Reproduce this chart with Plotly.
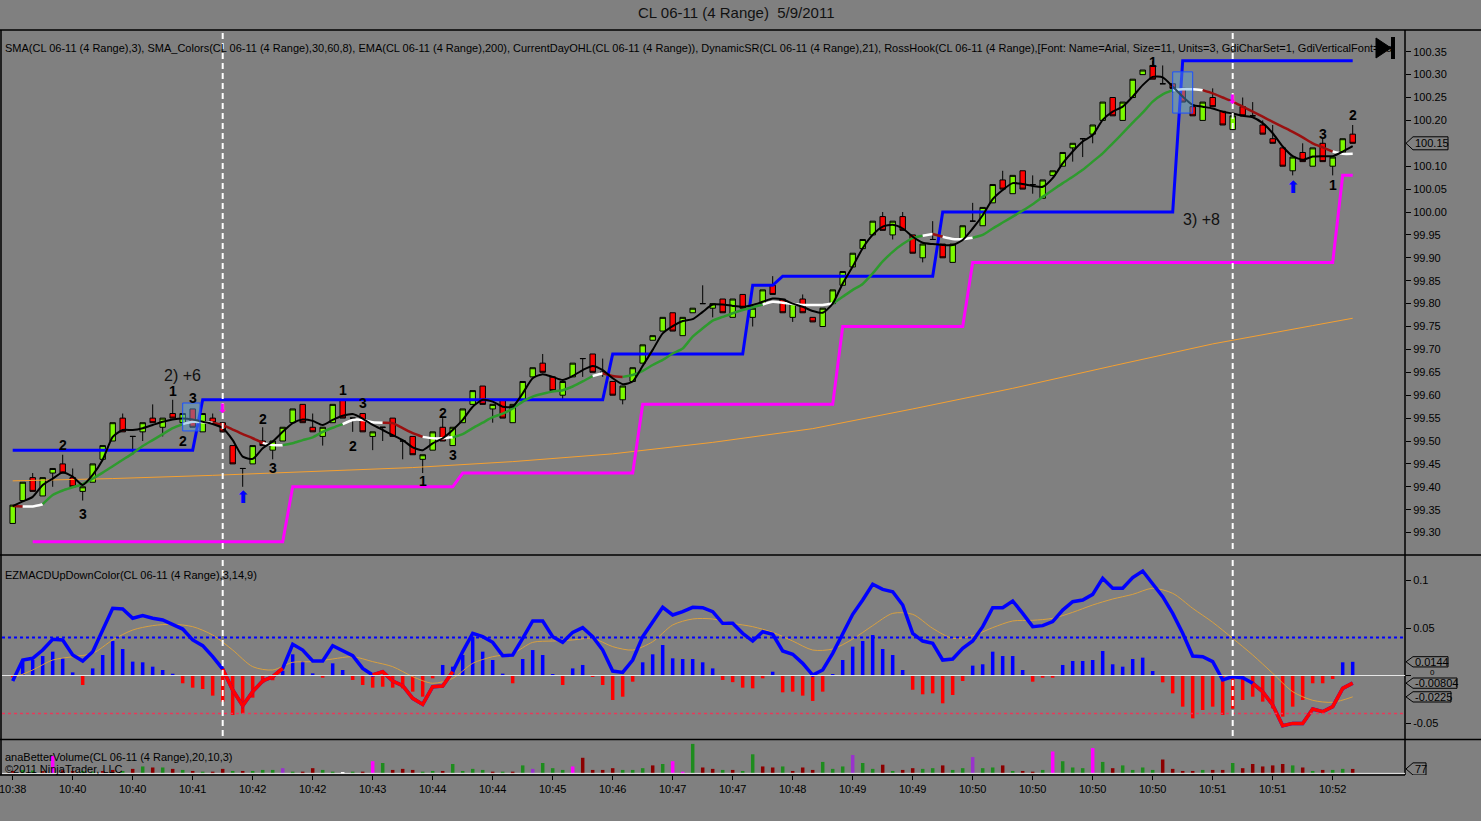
# Recreates a NinjaTrader style chart of CL 06-11 (4 Range) on 5/9/2011:
# price candles with overlays, MACD panel and volume panel.

################
# IMPORT MODULES
################
import plotly.graph_objects as go

#############
# DATA
#############
# One entry per range bar (135 bars, index 0..134).
opens = [99.32, 99.37, 99.42, 99.38, 99.43, 99.45, 99.42, 99.39, 99.41, 99.46,
         99.50, 99.55, 99.51, 99.52, 99.55, 99.53, 99.56, 99.54, 99.57, 99.52,
         99.55, 99.54, 99.49, 99.44, 99.45, 99.50, 99.48, 99.50, 99.54, 99.58,
         99.53, 99.51, 99.54, 99.59, 99.55, 99.56, 99.51, 99.53, 99.55, 99.50,
         99.51, 99.46, 99.48, 99.53, 99.49, 99.54, 99.58, 99.62, 99.57, 99.59,
         99.54, 99.59, 99.64, 99.67, 99.64, 99.60, 99.64, 99.68, 99.69, 99.65,
         99.63, 99.59, 99.63, 99.67, 99.72, 99.74, 99.78, 99.73, 99.78, 99.80,
         99.79, 99.81, 99.77, 99.82, 99.77, 99.80, 99.84, 99.81, 99.77, 99.81,
         99.77, 99.75, 99.80, 99.84, 99.88, 99.92, 99.95, 99.99, 99.95, 99.99,
         99.95, 99.90, 99.94, 99.93, 99.89, 99.94, 99.98, 99.97, 100.02, 100.07,
         100.04, 100.09, 100.06, 100.03, 100.08, 100.10, 100.14, 100.16, 100.17, 100.20,
         100.25, 100.20, 100.25, 100.30, 100.32, 100.28, 100.28, 100.27, 100.23, 100.20,
         100.25, 100.22, 100.18, 100.23, 100.21, 100.19, 100.16, 100.14, 100.09, 100.13,
         100.10, 100.15, 100.10, 100.13, 100.17]
highs = [99.36, 99.41, 99.43, 99.42, 99.44, 99.47, 99.44, 99.40, 99.45, 99.49,
         99.54, 99.56, 99.51, 99.54, 99.58, 99.55, 99.59, 99.56, 99.57, 99.56,
         99.56, 99.54, 99.49, 99.44, 99.49, 99.53, 99.50, 99.53, 99.57, 99.58,
         99.56, 99.53, 99.58, 99.59, 99.55, 99.56, 99.52, 99.53, 99.55, 99.50,
         99.51, 99.47, 99.52, 99.55, 99.53, 99.57, 99.61, 99.62, 99.58, 99.59,
         99.58, 99.63, 99.66, 99.69, 99.64, 99.63, 99.67, 99.68, 99.69, 99.68,
         99.63, 99.62, 99.66, 99.71, 99.73, 99.77, 99.78, 99.77, 99.79, 99.84,
         99.80, 99.81, 99.81, 99.82, 99.79, 99.83, 99.86, 99.81, 99.80, 99.82,
         99.77, 99.79, 99.83, 99.87, 99.91, 99.94, 99.98, 100.00, 99.98, 100.00,
         99.95, 99.93, 99.98, 99.93, 99.93, 99.97, 100.02, 100.01, 100.06, 100.09,
         100.08, 100.09, 100.08, 100.07, 100.09, 100.13, 100.15, 100.16, 100.19, 100.24,
         100.25, 100.24, 100.29, 100.31, 100.33, 100.32, 100.28, 100.27, 100.23, 100.24,
         100.27, 100.22, 100.21, 100.25, 100.24, 100.20, 100.19, 100.14, 100.12, 100.15,
         100.14, 100.16, 100.12, 100.16, 100.19]
lows = [99.32, 99.37, 99.39, 99.38, 99.40, 99.43, 99.40, 99.37, 99.41, 99.46,
        99.50, 99.52, 99.47, 99.50, 99.54, 99.51, 99.55, 99.54, 99.53, 99.52,
        99.54, 99.52, 99.45, 99.40, 99.45, 99.49, 99.46, 99.50, 99.54, 99.54,
        99.52, 99.49, 99.54, 99.55, 99.52, 99.52, 99.48, 99.50, 99.51, 99.46,
        99.47, 99.43, 99.48, 99.50, 99.49, 99.54, 99.58, 99.58, 99.54, 99.55,
        99.54, 99.59, 99.64, 99.65, 99.61, 99.59, 99.64, 99.64, 99.65, 99.64,
        99.60, 99.58, 99.63, 99.67, 99.72, 99.74, 99.74, 99.73, 99.78, 99.80,
        99.77, 99.78, 99.77, 99.79, 99.75, 99.80, 99.82, 99.78, 99.76, 99.78,
        99.76, 99.75, 99.80, 99.84, 99.88, 99.92, 99.95, 99.96, 99.94, 99.96,
        99.91, 99.89, 99.94, 99.90, 99.89, 99.94, 99.98, 99.97, 100.02, 100.05,
        100.04, 100.05, 100.04, 100.03, 100.08, 100.10, 100.11, 100.12, 100.15, 100.20,
        100.21, 100.20, 100.25, 100.30, 100.29, 100.28, 100.26, 100.24, 100.21, 100.20,
        100.23, 100.19, 100.18, 100.21, 100.21, 100.17, 100.15, 100.10, 100.08, 100.11,
        100.10, 100.11, 100.08, 100.13, 100.15]
closes = [99.36, 99.41, 99.39, 99.42, 99.44, 99.43, 99.40, 99.40, 99.45, 99.49,
          99.54, 99.52, 99.51, 99.54, 99.54, 99.55, 99.55, 99.56, 99.53, 99.56,
          99.54, 99.52, 99.45, 99.44, 99.49, 99.49, 99.50, 99.53, 99.57, 99.54,
          99.52, 99.53, 99.58, 99.55, 99.55, 99.52, 99.52, 99.53, 99.51, 99.50,
          99.47, 99.47, 99.52, 99.50, 99.53, 99.57, 99.61, 99.58, 99.58, 99.55,
          99.58, 99.63, 99.66, 99.65, 99.61, 99.63, 99.67, 99.68, 99.65, 99.65,
          99.60, 99.62, 99.66, 99.71, 99.73, 99.77, 99.74, 99.77, 99.79, 99.80,
          99.80, 99.78, 99.81, 99.79, 99.79, 99.83, 99.82, 99.78, 99.80, 99.78,
          99.76, 99.79, 99.83, 99.87, 99.91, 99.94, 99.98, 99.96, 99.98, 99.96,
          99.91, 99.93, 99.94, 99.90, 99.93, 99.97, 99.98, 100.01, 100.06, 100.05,
          100.08, 100.05, 100.06, 100.07, 100.09, 100.13, 100.15, 100.16, 100.19, 100.24,
          100.21, 100.24, 100.29, 100.31, 100.29, 100.28, 100.27, 100.24, 100.21, 100.24,
          100.23, 100.19, 100.21, 100.21, 100.21, 100.17, 100.15, 100.10, 100.12, 100.11,
          100.14, 100.11, 100.12, 100.16, 100.15]

# SMA(3) black line.
sma3 = [99.358, 99.368, 99.378, 99.404, 99.418, 99.431, 99.422, 99.404, 99.426, 99.459,
        99.509, 99.524, 99.524, 99.528, 99.535, 99.542, 99.547, 99.549, 99.547, 99.542,
        99.537, 99.528, 99.502, 99.466, 99.461, 99.484, 99.499, 99.520, 99.539, 99.547,
        99.544, 99.535, 99.546, 99.555, 99.559, 99.549, 99.535, 99.524, 99.513, 99.502,
        99.486, 99.480, 99.495, 99.506, 99.524, 99.546, 99.575, 99.590, 99.586, 99.575,
        99.575, 99.604, 99.637, 99.646, 99.640, 99.633, 99.642, 99.655, 99.664, 99.655,
        99.637, 99.624, 99.630, 99.664, 99.699, 99.735, 99.751, 99.762, 99.766, 99.782,
        99.798, 99.798, 99.795, 99.793, 99.797, 99.804, 99.811, 99.809, 99.800, 99.793,
        99.784, 99.780, 99.800, 99.844, 99.881, 99.921, 99.950, 99.968, 99.972, 99.964,
        99.946, 99.933, 99.930, 99.928, 99.928, 99.939, 99.964, 99.993, 100.028, 100.048,
        100.063, 100.061, 100.057, 100.055, 100.074, 100.106, 100.132, 100.154, 100.168, 100.201,
        100.219, 100.230, 100.252, 100.277, 100.295, 100.294, 100.274, 100.252, 100.234, 100.230,
        100.226, 100.219, 100.215, 100.210, 100.207, 100.194, 100.172, 100.143, 100.122, 100.114,
        100.121, 100.122, 100.122, 100.132, 100.144]

# SMA_Colors line and its trend state runs (g = up, r = down, w = flat).
sma_colors = [99.358, 99.357, 99.357, 99.362, 99.382, 99.392, 99.399, 99.406, 99.418, 99.431,
              99.445, 99.459, 99.473, 99.489, 99.502, 99.515, 99.528, 99.537, 99.542, 99.541,
              99.540, 99.535, 99.525, 99.515, 99.506, 99.496, 99.491, 99.491, 99.495, 99.502,
              99.508, 99.520, 99.529, 99.537, 99.546, 99.546, 99.541, 99.540, 99.539, 99.528,
              99.517, 99.509, 99.506, 99.506, 99.508, 99.515, 99.528, 99.540, 99.552, 99.560,
              99.571, 99.586, 99.597, 99.603, 99.608, 99.611, 99.619, 99.630, 99.642, 99.648,
              99.642, 99.640, 99.644, 99.653, 99.666, 99.677, 99.691, 99.702, 99.728, 99.746,
              99.763, 99.771, 99.779, 99.786, 99.792, 99.798, 99.804, 99.802, 99.799, 99.797,
              99.797, 99.797, 99.800, 99.815, 99.830, 99.843, 99.866, 99.892, 99.913, 99.930,
              99.943, 99.948, 99.952, 99.946, 99.941, 99.941, 99.944, 99.950, 99.964, 99.977,
              99.990, 100.003, 100.017, 100.033, 100.048, 100.063, 100.077, 100.092, 100.110, 100.128,
              100.150, 100.172, 100.195, 100.217, 100.241, 100.257, 100.266, 100.268, 100.268, 100.266,
              100.259, 100.250, 100.241, 100.230, 100.219, 100.208, 100.197, 100.186, 100.175, 100.163,
              100.150, 100.141, 100.132, 100.127, 100.127]
sma_colors_runs = [('r', 2), ('w', 2), ('g', 14), ('w', 3), ('r', 5), ('w', 2), ('g', 6),
                   ('w', 4), ('r', 4), ('w', 3), ('g', 14), ('w', 1), ('r', 2), ('g', 14),
                   ('w', 7), ('g', 9), ('w', 1), ('r', 1), ('w', 3), ('g', 20), ('w', 3),
                   ('r', 13), ('w', 2)]

# EMA(200), read every 10 bars.
ema_bars = [0, 10, 20, 30, 40, 50, 60, 70, 80, 90, 100, 110, 120, 130, 134]
ema200 = [99.413, 99.418, 99.425, 99.433, 99.442, 99.455, 99.472, 99.497, 99.527,
          99.570, 99.615, 99.664, 99.712, 99.752, 99.768]

# DynamicSR steps: first bar of each level and the level.
resist_start = [0, 19, 60, 74, 77, 93, 117]
resist_level = [99.48, 99.59, 99.69, 99.84, 99.86, 100.00, 100.33]
support_start = [2, 28, 45, 63, 83, 96, 133]
support_level = [99.28, 99.40, 99.43, 99.58, 99.75, 99.89, 100.08]

# RossHook labels (bar, price, text), trade notes and hook boxes.
hook_labels = [(5, 99.491, '2'), (7, 99.341, '3'), (16, 99.609, '1'), (18, 99.594, '3'),
               (17, 99.500, '2'), (25, 99.548, '2'), (26, 99.441, '3'), (33, 99.611, '1'),
               (35, 99.583, '3'), (34, 99.489, '2'), (43, 99.561, '2'), (44, 99.469, '3'),
               (41, 99.413, '1'), (114, 100.327, '1'), (131, 100.170, '3'),
               (134, 100.212, '2'), (132, 100.059, '1')]
trade_notes = [(17.0, 99.644, '2) +6'), (118.9, 99.983, '3) +8')]
hook_boxes = [(17.0, 18.73, 99.522, 99.583), (116.0, 118.0, 100.216, 100.306)]
entry_bars = [21, 122]
entry_prices = [99.572, 100.245]
up_arrows = [(23, 99.378), (128, 100.055)]

# EZMACDUpDownColor(3,14,9).
macd = [-0.0058, 0.0163, 0.0181, 0.0268, 0.0381, 0.0374, 0.0216, 0.0153, 0.0251, 0.0479,
        0.0707, 0.0700, 0.0602, 0.0630, 0.0602, 0.0584, 0.0539, 0.0489, 0.0374, 0.0314,
        0.0198, 0.0068, -0.0153, -0.0318, -0.0170, -0.0058, -0.0012, 0.0075, 0.0328, 0.0268,
        0.0153, 0.0153, 0.0314, 0.0258, 0.0209, 0.0075, 0.0005, 0.0040, -0.0058, -0.0107,
        -0.0240, -0.0304, -0.0118, -0.0111, 0.0040, 0.0251, 0.0444, 0.0409, 0.0349, 0.0209,
        0.0216, 0.0391, 0.0574, 0.0574, 0.0409, 0.0349, 0.0454, 0.0504, 0.0409, 0.0268,
        0.0047, 0.0033, 0.0163, 0.0409, 0.0567, 0.0718, 0.0637, 0.0672, 0.0718, 0.0714,
        0.0672, 0.0549, 0.0549, 0.0444, 0.0363, 0.0461, 0.0433, 0.0258, 0.0223, 0.0128,
        0.0005, 0.0058, 0.0233, 0.0444, 0.0644, 0.0795, 0.0960, 0.0907, 0.0882, 0.0742,
        0.0444, 0.0363, 0.0339, 0.0163, 0.0174, 0.0286, 0.0363, 0.0514, 0.0714, 0.0714,
        0.0784, 0.0654, 0.0514, 0.0525, 0.0567, 0.0689, 0.0777, 0.0795, 0.0854, 0.1023,
        0.0918, 0.0918, 0.1030, 0.1100, 0.0970, 0.0830, 0.0654, 0.0444, 0.0205, 0.0198,
        0.0146, -0.0047, -0.0012, -0.0023, -0.0082, -0.0170, -0.0311, -0.0528, -0.0504, -0.0504,
        -0.0353, -0.0381, -0.0328, -0.0135, -0.00804]
macd_red_runs = [(21, 27), (36, 44), (124, 134)]
signal_bars = list(range(0, 135, 2))
signal = [-0.0030, 0.0058, 0.0163, 0.0198, 0.0233, 0.0374, 0.0479, 0.0525, 0.0539, 0.0514,
          0.0426, 0.0268, 0.0093, 0.0058, 0.0139, 0.0146, 0.0174, 0.0198, 0.0146, 0.0093,
          -0.0012, -0.0082, -0.0030, 0.0128, 0.0198, 0.0233, 0.0349, 0.0363, 0.0374, 0.0391,
          0.0304, 0.0268, 0.0356, 0.0532, 0.0595, 0.0595, 0.0549, 0.0514, 0.0454, 0.0363,
          0.0268, 0.0279, 0.0384, 0.0525, 0.0654, 0.0644, 0.0496, 0.0391, 0.0419, 0.0504,
          0.0574, 0.0581, 0.0602, 0.0665, 0.0742, 0.0805, 0.0854, 0.0918, 0.0865, 0.0707,
          0.0560, 0.0391, 0.0216, 0.0023, -0.0170, -0.0261, -0.0282, -0.0225]
histogram = [-0.0020, 0.0163, 0.0163, 0.0205, 0.0251, 0.0181, 0.0033, -0.0100, 0.0075, 0.0216,
             0.0363, 0.0279, 0.0146, 0.0139, 0.0093, 0.0058, 0.0019, -0.0082, -0.0128, -0.0142,
             -0.0212, -0.0275, -0.0416, -0.0400, -0.0233, -0.0080, -0.0050, 0.0050, 0.0223, 0.0153,
             0.0023, -0.0023, 0.0128, 0.0058, -0.0047, -0.0100, -0.0128, -0.0118, -0.0128, -0.0135,
             -0.0170, -0.0223, -0.0030, 0.0111, 0.0093, 0.0216, 0.0409, 0.0251, 0.0163, 0.0020,
             -0.0082, 0.0174, 0.0268, 0.0216, 0.0012, -0.0100, 0.0075, 0.0111, -0.0012, -0.0100,
             -0.0258, -0.0223, -0.0065, 0.0139, 0.0223, 0.0321, 0.0181, 0.0174, 0.0174, 0.0139,
             0.0075, -0.0047, -0.0070, -0.0128, -0.0135, -0.0030, 0.0040, -0.0177, -0.0170, -0.0212,
             -0.0268, -0.0170, 0.0010, 0.0163, 0.0304, 0.0363, 0.0426, 0.0279, 0.0216, 0.0058,
             -0.0150, -0.0198, -0.0188, -0.0293, -0.0205, -0.0058, 0.0104, 0.0118, 0.0251, 0.0205,
             0.0205, 0.0058, -0.0065, -0.0023, -0.0023, 0.0111, 0.0153, 0.0153, 0.0163, 0.0258,
             0.0118, 0.0093, 0.0174, 0.0188, 0.0047, -0.0072, -0.0188, -0.0328, -0.0451, -0.0363,
             -0.0328, -0.0416, -0.0350, -0.0258, -0.0223, -0.0275, -0.0346, -0.0433, -0.0328, -0.0258,
             -0.0082, -0.0082, -0.0037, 0.0139, 0.0144]
macd_levels = [0.04, -0.04]

# anaBetterVolume(20,10,3) and bar class (g up, r down, m climax, p churn, w low).
volume = [42, 60, 50, 40, 300, 54, 42, 42, 30, 42,
          60, 42, 78, 120, 102, 102, 78, 60, 42, 30,
          30, 78, 42, 42, 42, 60, 60, 90, 30, 30,
          90, 60, 30, 18, 30, 30, 210, 180, 60, 78,
          60, 30, 42, 42, 162, 42, 78, 60, 30, 30,
          30, 138, 78, 180, 90, 60, 120, 270, 60, 60,
          90, 60, 60, 90, 138, 162, 210, 30, 510, 102,
          78, 60, 60, 42, 330, 120, 102, 120, 42, 102,
          60, 198, 78, 120, 318, 180, 78, 150, 42, 60,
          90, 78, 90, 138, 60, 90, 282, 90, 102, 138,
          42, 42, 30, 60, 378, 210, 102, 90, 438, 198,
          90, 138, 60, 102, 60, 240, 78, 42, 42, 60,
          60, 60, 180, 90, 162, 120, 138, 162, 138, 102,
          42, 60, 60, 78, 77]
volume_class = ('rggrmrrggr' 'rgrgrgrgrg' 'rrgrgggpgr' 'rggwgrmgrr' 'rggrggggrg'
                'rgpgggmrrr' 'rgggrgmmgr' 'rgrggrrgrr' 'rgggpggrgr' 'rggrggpggr'
                'grrgmgggmg' 'rggggrrrrg' 'rrgrrrrrgr' 'grggr')

time_labels = ['10:38', '10:40', '10:40', '10:41', '10:42', '10:42', '10:43', '10:44',
               '10:44', '10:45', '10:46', '10:47', '10:47', '10:48', '10:49', '10:49',
               '10:50', '10:50', '10:50', '10:50', '10:51', '10:51', '10:52']
price_ticks = [99.30, 99.35, 99.40, 99.45, 99.50, 99.55, 99.60, 99.65, 99.70, 99.75, 99.80,
               99.85, 99.90, 99.95, 100.00, 100.05, 100.10, 100.15, 100.20, 100.25, 100.30, 100.35]
macd_ticks = [-0.05, 0, 0.05, 0.1]

################
# PREPARE
################
W, H = 1481, 821
FONT = 'Liberation Sans, Arial, sans-serif'
bars = list(range(len(closes)))


def fx(px):
    return px / W


def fy(py):
    return 1 - py / H


def steps(starts, levels, last):
    xs, ys = [], []
    for k, lev in enumerate(levels):
        end = starts[k + 1] - 1 if k + 1 < len(starts) else last
        xs += [starts[k], end]
        ys += [lev, lev]
    return xs, ys


trend = []
for code, n in sma_colors_runs:
    trend += [code] * n

###########
# PLOT DATA
###########
fig = go.Figure()

# Price panel.
fig.add_trace(go.Scatter(x=ema_bars, y=ema200, mode='lines', line=dict(color='#F5A030', width=1),
                         xaxis='x', yaxis='y'))
sx, sy = steps(support_start, support_level, bars[-1])
fig.add_trace(go.Scatter(x=sx, y=sy, mode='lines', line=dict(color='#FF00FF', width=3),
                         xaxis='x', yaxis='y'))
rx, ry = steps(resist_start, resist_level, bars[-1])
fig.add_trace(go.Scatter(x=rx, y=ry, mode='lines', line=dict(color='#0000FF', width=3),
                         xaxis='x', yaxis='y'))
fig.add_trace(go.Candlestick(x=bars, open=opens, high=highs, low=lows, close=closes,
                             increasing=dict(fillcolor='#7CFC00', line=dict(color='black', width=1)),
                             decreasing=dict(fillcolor='#FF0000', line=dict(color='black', width=1)),
                             whiskerwidth=0, xaxis='x', yaxis='y'))

trend_colors = {'g': '#2E9A2E', 'r': '#9A1010', 'w': '#FFFFFF'}
i = 0
while i < len(trend):
    j = i
    while j + 1 < len(trend) and trend[j + 1] == trend[i]:
        j += 1
    lo = max(i - 1, 0)
    fig.add_trace(go.Scatter(x=bars[lo:j + 1], y=sma_colors[lo:j + 1], mode='lines',
                             line=dict(color=trend_colors[trend[i]], width=2.5, shape='spline', smoothing=0.6),
                             xaxis='x', yaxis='y'))
    i = j + 1

fig.add_trace(go.Scatter(x=bars, y=sma3, mode='lines',
                         line=dict(color='black', width=2, shape='spline', smoothing=0.6),
                         xaxis='x', yaxis='y'))

# MACD panel.
fig.add_trace(go.Bar(x=bars, y=histogram, width=0.35,
                     marker=dict(color=['#0000FF' if v >= 0 else '#FF0000' for v in histogram], line=dict(width=0)),
                     xaxis='x2', yaxis='y2'))
fig.add_trace(go.Scatter(x=signal_bars, y=signal, mode='lines',
                         line=dict(color='#D8A040', width=1, shape='spline', smoothing=0.8),
                         xaxis='x2', yaxis='y2'))
fig.add_trace(go.Scatter(x=bars, y=macd, mode='lines', line=dict(color='#0000FF', width=3.5),
                         xaxis='x2', yaxis='y2'))
for a, b in macd_red_runs:
    fig.add_trace(go.Scatter(x=bars[a:b + 1], y=macd[a:b + 1], mode='lines',
                             line=dict(color='#FF0000', width=3.5), xaxis='x2', yaxis='y2'))

# Volume panel.
vol_colors = {'g': '#1E8C1E', 'r': '#8B0000', 'm': '#FF00FF', 'p': '#9932CC', 'w': '#FFFFFF'}
fig.add_trace(go.Bar(x=bars, y=volume, width=0.35,
                     marker=dict(color=[vol_colors[c] for c in volume_class], line=dict(width=0)),
                     xaxis='x3', yaxis='y3'))

########
# LAYOUT
########
xdom = [fx(2), fx(1405)]
xrange_ = [-1.07, 139.23]
axis_font = dict(family=FONT, size=11, color='black')

fig.update_layout(
    width=W, height=H, margin=dict(l=0, r=0, t=0, b=0, autoexpand=False),
    paper_bgcolor='#808080', plot_bgcolor='#808080', showlegend=False,
    barmode='overlay', boxgap=0.22, font=dict(family=FONT, size=11, color='black'),
    xaxis=dict(domain=xdom, range=xrange_, anchor='y', showticklabels=False, showgrid=False,
               zeroline=False, rangeslider=dict(visible=False)),
    xaxis2=dict(domain=xdom, range=xrange_, anchor='y2', matches='x', showticklabels=False,
                showgrid=False, zeroline=False),
    xaxis3=dict(domain=xdom, range=xrange_, anchor='y3', matches='x', showgrid=False, zeroline=False,
                tickvals=list(range(0, 6 * len(time_labels), 6)), ticktext=time_labels,
                ticks='outside', ticklen=4, tickcolor='black', tickfont=axis_font,
                ticklabeloverflow='allow', automargin=False),
    yaxis=dict(domain=[fy(555), fy(30)], range=[99.2511, 100.3974], anchor='x', side='right',
               tickvals=price_ticks, ticktext=['%.2f' % v for v in price_ticks], ticks='outside',
               ticklen=5, tickcolor='black', tickfont=axis_font, showgrid=False, zeroline=False,
               automargin=False),
    # The "0" label sits half hidden behind the value tags, so it is drawn as an annotation below.
    yaxis2=dict(domain=[fy(739), fy(557)], range=[-0.06684, 0.12474], anchor='x2', side='right',
                tickvals=macd_ticks, ticktext=['%g' % v if v != 0 else '' for v in macd_ticks],
                ticks='outside', ticklen=5, tickcolor='black', tickfont=axis_font, showgrid=False,
                zeroline=False, automargin=False),
    yaxis3=dict(domain=[fy(775), fy(741)], range=[-28, 560], anchor='x3', showticklabels=False,
                showgrid=False, zeroline=False),
)

shapes = []
# Panel frames.
for y, x1 in [(30, 1481), (555, 1481), (739.5, 1481), (775, 1405)]:
    shapes.append(dict(type='line', xref='paper', yref='paper', x0=0, x1=fx(x1), y0=fy(y), y1=fy(y),
                       line=dict(color='black', width=1.5)))
for x in [1, 1405]:
    shapes.append(dict(type='line', xref='paper', yref='paper', x0=fx(x), x1=fx(x), y0=fy(30), y1=fy(775),
                       line=dict(color='black', width=1.5)))
# MACD zero line and levels, volume base line.
shapes.append(dict(type='line', xref='paper', yref='y2', x0=fx(2), x1=fx(1405), y0=0, y1=0,
                   line=dict(color='#E6E6E6', width=1)))
shapes.append(dict(type='line', xref='paper', yref='y2', x0=fx(2), x1=fx(1405), y0=macd_levels[0],
                   y1=macd_levels[0], line=dict(color='#0000FF', width=2, dash='dot')))
shapes.append(dict(type='line', xref='paper', yref='y2', x0=fx(2), x1=fx(1405), y0=macd_levels[1],
                   y1=macd_levels[1], line=dict(color='#E8385A', width=1.5, dash='dot')))
shapes.append(dict(type='line', xref='paper', yref='y3', x0=fx(2), x1=fx(1405), y0=0, y1=0,
                   line=dict(color='#E6E6E6', width=1)))
# Entry markers (dashed verticals) through price and MACD panels.
for b in entry_bars:
    for y0, y1 in [(33, 553), (560, 736)]:
        shapes.append(dict(type='line', xref='x', yref='paper', x0=b, x1=b, y0=fy(y0), y1=fy(y1),
                           line=dict(color='white', width=2, dash='6px,4px')))
# Hook boxes.
for x0, x1, y0, y1 in hook_boxes:
    shapes.append(dict(type='rect', xref='x', yref='y', x0=x0, x1=x1, y0=y0, y1=y1,
                       fillcolor='rgba(95,165,215,0.45)', line=dict(color='#1A50FF', width=1)))
# "Go to end" icon.
shapes.append(dict(type='path', xref='paper', yref='paper',
                   path='M %f,%f L %f,%f L %f,%f Z' % (fx(1376), fy(38), fx(1376), fy(58), fx(1391), fy(48)),
                   fillcolor='black', line=dict(color='black', width=1)))
shapes.append(dict(type='rect', xref='paper', yref='paper', x0=fx(1391), x1=fx(1395), y0=fy(59), y1=fy(37),
                   fillcolor='black', line=dict(width=0)))

annotations = []


def value_tag(yref, yval, half, text, right_px):
    shapes.append(dict(type='path', xref='paper', yref=yref,
                       path='M %f,%f L %f,%f L %f,%f L %f,%f L %f,%f Z' % (
                           fx(1406), yval, fx(1413), yval + half, fx(right_px), yval + half,
                           fx(right_px), yval - half, fx(1413), yval - half),
                       fillcolor='#808080', line=dict(color='black', width=1)))
    annotations.append(dict(xref='paper', yref=yref, x=fx(1413), y=yval, xanchor='left', yanchor='middle',
                            text=text, showarrow=False, font=axis_font))


value_tag('y', closes[-1], 0.0142, '%.2f' % closes[-1], 1448)
value_tag('y2', histogram[-1], 0.0054, '%g' % histogram[-1], 1448)
value_tag('y2', macd[-1], 0.0054, '%g' % macd[-1], 1457)
value_tag('y2', signal[-1], 0.0054, '%g' % signal[-1], 1451)
value_tag('y3', volume[-1], 105, '%d' % volume[-1], 1426)

# Peeking "0" label of the MACD axis, between the two upper value tags.
annotations.append(dict(xref='paper', yref='y2', x=fx(1429), y=0, xanchor='left', yanchor='middle',
                        yshift=3, borderpad=0, text='0', showarrow=False,
                        font=dict(family=FONT, size=8, color='black')))

# Titles and indicator captions.
annotations.append(dict(xref='paper', yref='paper', x=fx(736), y=fy(13), xanchor='center', yanchor='middle',
                        text='CL 06-11 (4 Range)  5/9/2011',
                        showarrow=False, font=dict(family=FONT, size=15, color='#111111')))
caption = ('SMA(CL 06-11 (4 Range),3), SMA_Colors(CL 06-11 (4 Range),30,60,8), EMA(CL 06-11 (4 Range),200), '
           'CurrentDayOHL(CL 06-11 (4 Range)), DynamicSR(CL 06-11 (4 Range),21), RossHook(CL 06-11 (4 Range),'
           '[Font: Name=Arial, Size=11, Units=3, GdiCharSet=1, GdiVerticalFont=Fal')
for text, y in [(caption, 48), ('EZMACDUpDownColor(CL 06-11 (4 Range),3,14,9)', 575),
                ('anaBetterVolume(CL 06-11 (4 Range),20,10,3)', 757), ('©2011 NinjaTrader, LLC', 769)]:
    annotations.append(dict(xref='paper', yref='paper', x=fx(3), y=fy(y), xanchor='left', yanchor='middle',
                            text=text, showarrow=False, font=dict(family=FONT, size=11, color='black')))

# RossHook numbers and trade notes.
for b, p, t in hook_labels:
    annotations.append(dict(xref='x', yref='y', x=b, y=p, text='<b>%s</b>' % t, showarrow=False,
                            yanchor='middle', font=dict(family=FONT, size=14, color='black')))
for b, p, t in trade_notes:
    annotations.append(dict(xref='x', yref='y', x=b, y=p, text=t, showarrow=False, yanchor='middle',
                            font=dict(family=FONT, size=16, color='#111111')))
for b, p in up_arrows:
    annotations.append(dict(xref='x', yref='y', x=b, y=p, text='⬆', showarrow=False, yanchor='middle',
                            font=dict(family='DejaVu Sans', size=17, color='#0000FF')))
for b, p in zip(entry_bars, entry_prices):
    annotations.append(dict(xref='x', yref='y', x=b, y=p, text='⬇', showarrow=False, yanchor='middle',
                            font=dict(family='DejaVu Sans', size=13, color='#FF00FF')))

fig.update_layout(shapes=shapes, annotations=annotations)

fig.write_html('out.html', config={'displayModeBar': False},
               post_script="document.body.style.margin='0';")
